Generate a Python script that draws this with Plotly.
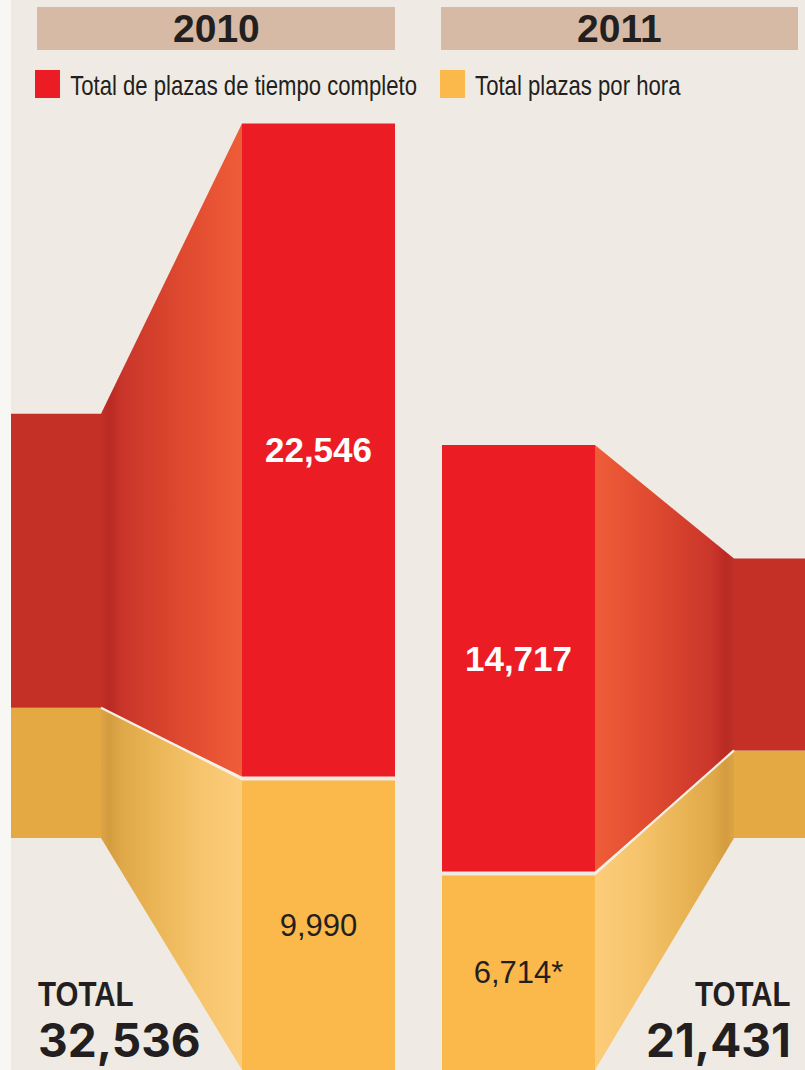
import json
import plotly.graph_objects as go

# ---------------- data ----------------
years = ["2010", "2011"]
tiempo_completo = [22546, 14717]          # Total de plazas de tiempo completo
por_hora = [9990, 6714]                   # Total plazas por hora
totales = [32536, 21431]
completo_text = ["22,546", "14,717"]
hora_text = ["9,990", "6,714*"]
legend_labels = ["Total de plazas de tiempo completo", "Total plazas por hora"]

# ---------------- layout / style constants ----------------
W, H = 805, 1070
PX_PER_UNIT = 0.02897                 # vertical scale (pixels per plaza)
Y_MAX = H / PX_PER_UNIT
GAP = 140                             # light gap between the two segments
DEPTH = 0.45                          # perspective factor of the receding face
STUB_BASE = 8010                      # baseline of the receding face (plaza units)

BAR_X = [(242, 395), (442, 595)]      # front bars (x in px)
STUB_X = [(11, 101), (734, 805)]      # receding faces
STUB_ON_LEFT = [True, False]
HEADER_X = [(37, 395), (441, 798)]

BG = "#efebe4"
RED = "#ec1c24"
YEL = "#fbb84b"
RED_STUB = "#c42f26"
YEL_STUB = "#e4a943"
TXT = "#231f20"
HEADER = "#d6baa6"

# gradients: bar side -> stub side
RED_GRAD = ["#ef5d38", "#e44f32", "#d6412d", "#c9352a", "#b92a23", "#c0302a"]
YEL_GRAD = ["#fccd7b", "#f6c46c", "#ebb657", "#dfa848", "#d49c3f", "#dba445"]
GRAD_POS = [0.0, 0.3, 0.6, 0.85, 0.94, 1.0]

SANS = "Liberation Sans, Arial, Helvetica, sans-serif"
WIDE = "Inter, Open Sans, DejaVu Sans, sans-serif"
CONDENSE = 0.82                       # horizontal squeeze for condensed-looking texts


def py(p):
    """pixel row -> paper y"""
    return 1 - p / H


def scale(colors, reverse):
    pos = GRAD_POS
    if reverse:
        return [[1 - p, c] for p, c in reversed(list(zip(pos, colors)))]
    return [[p, c] for p, c in zip(pos, colors)]


fig = go.Figure()

for i, yr in enumerate(years):
    bx0, bx1 = BAR_X[i]
    sx0, sx1 = STUB_X[i]
    yel_top = por_hora[i]
    red_base = por_hora[i] + GAP
    red_top = red_base + tiempo_completo[i]
    s_yel_h = DEPTH * por_hora[i]
    s_red_h = DEPTH * tiempo_completo[i]
    s_yel_top = STUB_BASE + s_yel_h
    s_red_top = s_yel_top + s_red_h

    if STUB_ON_LEFT[i]:
        xb, xs = bx0, sx1
    else:
        xb, xs = bx1, sx0
    rev = STUB_ON_LEFT[i]

    # receding faces
    fig.add_trace(go.Bar(x=[(sx0 + sx1) / 2], y=[s_yel_h], base=[STUB_BASE], width=[sx1 - sx0],
                         marker=dict(color=YEL_STUB, line=dict(width=0)), hoverinfo="skip"))
    fig.add_trace(go.Bar(x=[(sx0 + sx1) / 2], y=[s_red_h], base=[s_yel_top], width=[sx1 - sx0],
                         marker=dict(color=RED_STUB, line=dict(width=0)), hoverinfo="skip"))

    # connecting trapezoids with gradient
    fig.add_trace(go.Scatter(
        x=[xs, xs, xb, xb, xs], y=[STUB_BASE, s_yel_top, yel_top, 0, STUB_BASE],
        mode="lines", line=dict(width=0), fill="toself",
        fillgradient=dict(type="horizontal", colorscale=scale(YEL_GRAD, rev)),
        hoverinfo="skip"))
    fig.add_trace(go.Scatter(
        x=[xs, xs, xb, xb, xs], y=[s_yel_top, s_red_top, red_top, red_base, s_yel_top],
        mode="lines", line=dict(width=0), fill="toself",
        fillgradient=dict(type="horizontal", colorscale=scale(RED_GRAD, rev)),
        hoverinfo="skip"))
    fig.add_trace(go.Scatter(
        x=[xs, xb], y=[s_yel_top, (yel_top + red_base) / 2],
        mode="lines", line=dict(width=2.2, color="#f6efe4"), hoverinfo="skip"))

    # front bars
    fig.add_trace(go.Bar(
        x=[(bx0 + bx1) / 2], y=[por_hora[i]], base=[0], width=[bx1 - bx0],
        marker=dict(color=YEL, line=dict(width=0)),
        text=[hora_text[i]], textposition="inside", insidetextanchor="middle",
        textangle=0, constraintext="none",
        textfont=dict(family=SANS, size=31, color=TXT), hoverinfo="skip"))
    fig.add_trace(go.Bar(
        x=[(bx0 + bx1) / 2], y=[tiempo_completo[i]], base=[red_base], width=[bx1 - bx0],
        marker=dict(color=RED, line=dict(width=0)),
        text=[completo_text[i]], textposition="inside", insidetextanchor="middle",
        textangle=0, constraintext="none",
        textfont=dict(family=SANS, size=35, color="white", weight="bold"), hoverinfo="skip"))

shapes = [
    dict(type="rect", xref="x", yref="paper", x0=0, x1=11, y0=0, y1=1,
         fillcolor="#f8f7f4", line=dict(width=0), layer="below"),
]
annotations = []
for i, yr in enumerate(years):
    hx0, hx1 = HEADER_X[i]
    shapes.append(dict(type="rect", xref="x", yref="paper", x0=hx0, x1=hx1, y0=py(50), y1=py(7),
                       fillcolor=HEADER, line=dict(width=0), layer="below"))
    annotations.append(dict(x=(hx0 + hx1) / 2, y=py(28.5), xref="x", yref="paper", text=f"<b>{yr}</b>",
                            showarrow=False, xanchor="center", yanchor="middle",
                            font=dict(family=SANS, size=39, color=TXT)))

# legend
LEG_X = [35, 440]
LEG_COL = [RED, YEL]
for i, lab in enumerate(legend_labels):
    shapes.append(dict(type="rect", xref="x", yref="paper", x0=LEG_X[i], x1=LEG_X[i] + 25,
                       y0=py(98), y1=py(70), fillcolor=LEG_COL[i], line=dict(width=0)))
    annotations.append(dict(x=LEG_X[i] + 33, y=py(86), xref="x", yref="paper", text=lab,
                            showarrow=False, xanchor="left", yanchor="middle",
                            font=dict(family=SANS, size=27, color=TXT)))

# totals
TOT_X = [36, 793]
TOT_ANCH = ["left", "right"]
for i, t in enumerate(totales):
    annotations.append(dict(x=TOT_X[i], y=py(993), xref="x", yref="paper", text="<b>TOTAL</b>",
                            showarrow=False, xanchor=TOT_ANCH[i], yanchor="middle",
                            font=dict(family=SANS, size=36, color=TXT)))
    annotations.append(dict(x=TOT_X[i], y=py(1040), xref="x", yref="paper", text=f"<b>{t:,}</b>",
                            showarrow=False, xanchor=TOT_ANCH[i], yanchor="middle",
                            font=dict(family=WIDE, size=46, color=TXT)))

fig.update_layout(
    width=W, height=H, margin=dict(l=0, r=0, t=0, b=0),
    paper_bgcolor=BG, plot_bgcolor=BG,
    barmode="overlay", showlegend=False,
    xaxis=dict(range=[0, W], visible=False, fixedrange=True),
    yaxis=dict(range=[0, Y_MAX], visible=False, fixedrange=True),
    shapes=shapes, annotations=annotations,
    uniformtext=dict(mode=False),
)

left_names = json.dumps(legend_labels)
post = """
document.body.style.margin = '0';
document.body.style.overflow = 'hidden';
(function () {
  var gd = document.getElementById('{plot_id}');
  var leftNames = %s;
  function squeeze() {
    gd.querySelectorAll('text.annotation-text').forEach(function (t) {
      var txt = t.textContent;
      var origin;
      if (leftNames.indexOf(txt) >= 0) {
        origin = '0%%';
      } else if (txt === 'TOTAL') {
        var r = t.getBoundingClientRect();
        origin = (r.left + r.width / 2 > %d / 2) ? '100%%' : '0%%';
      } else {
        return;
      }
      t.style.transformBox = 'fill-box';
      t.style.transformOrigin = origin + ' 50%%';
      t.style.transform = 'scaleX(%s)';
    });
  }
  squeeze();
  setTimeout(squeeze, 200);
  if (gd.on) gd.on('plotly_afterplot', squeeze);
})();
""" % (left_names, W, CONDENSE)

fig.write_html("out.html", post_script=post, config={"displayModeBar": False, "staticPlot": True})
